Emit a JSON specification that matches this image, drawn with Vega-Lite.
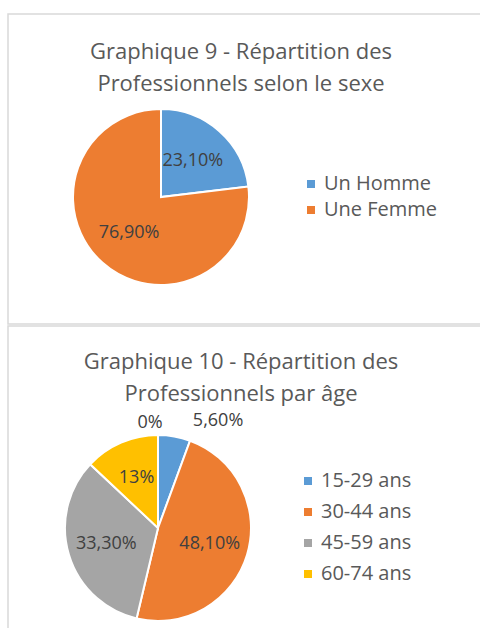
{
  "$schema": "https://vega.github.io/schema/vega-lite/v6.json",
  "background": "white",
  "padding": {"left": 7, "top": 13, "right": 0, "bottom": 0},
  "spacing": 0,
  "resolve": {"scale": {"color": "independent", "theta": "independent"}, "legend": {"color": "independent"}},
  "config": {
    "view": {"stroke": "#d9d9d9", "strokeWidth": 1.5},
    "font": "Open Sans"
  },
  "vconcat": [
    {
      "width": 480,
      "height": 310,
      "view": {"stroke": "#d9d9d9", "strokeWidth": 1.5},
      "title": {"text": ["Graphique 9 - Répartition des", "Professionnels selon le sexe"], "fontSize": 22, "fontWeight": "normal", "color": "#595959", "anchor": "middle", "frame": "group", "lineHeight": 32, "offset": -82, "dx": -7},
      "data": {"values": [
        {"sexe": "Un Homme", "pct": 23.1, "label": "23,10%"},
        {"sexe": "Une Femme", "pct": 76.9, "label": "76,90%"}
      ]},
      "layer": [
        {
          "mark": {"type": "arc", "x": 153, "y": 183, "outerRadius": 88, "stroke": "white", "strokeWidth": 2},
          "encoding": {
            "theta": {"field": "pct", "type": "quantitative", "stack": true},
            "order": {"field": "sexe", "type": "nominal"},
            "color": {"field": "sexe", "type": "nominal", "scale": {"domain": ["Un Homme", "Une Femme"], "range": ["#5B9BD5", "#ED7D31"]},
              "legend": {"orient": "none", "legendX": 293, "legendY": 160, "title": null, "symbolType": "square", "symbolSize": 64, "symbolStrokeWidth": 0, "labelFontSize": 20, "labelColor": "#595959", "labelOffset": 3, "rowPadding": 6, "labelFont": "Open Sans"}}
          }
        },
        {
          "mark": {"type": "text", "x": 153, "y": 183, "radius": 48, "fontSize": 18, "color": "#404040"},
          "encoding": {
            "theta": {"field": "pct", "type": "quantitative", "stack": true},
            "order": {"field": "sexe", "type": "nominal"},
            "detail": {"field": "sexe", "type": "nominal"},
            "text": {"field": "label", "type": "nominal"}
          }
        }
      ]
    },
    {
      "width": 480,
      "height": 310,
      "view": {"stroke": "#d9d9d9", "strokeWidth": 1.5},
      "title": {"text": ["Graphique 10 - Répartition des", "Professionnels par âge"], "fontSize": 22, "fontWeight": "normal", "color": "#595959", "anchor": "middle", "frame": "group", "lineHeight": 32, "offset": -80, "dx": -7},
      "data": {"values": [
        {"age": "15-29 ans", "pct": 5.6, "label": "5,60%"},
        {"age": "30-44 ans", "pct": 48.1, "label": "48,10%"},
        {"age": "45-59 ans", "pct": 33.3, "label": "33,30%"},
        {"age": "60-74 ans", "pct": 13, "label": "13%"},
        {"age": "75 ans et plus", "pct": 0, "label": "0%"}
      ]},
      "layer": [
        {
          "transform": [{"filter": "datum.pct > 0"}],
          "mark": {"type": "arc", "x": 150, "y": 202, "outerRadius": 93, "stroke": "white", "strokeWidth": 2},
          "encoding": {
            "theta": {"field": "pct", "type": "quantitative", "stack": true, "scale": {"domain": [0, 100]}},
            "order": {"field": "age", "type": "nominal"},
            "color": {"field": "age", "type": "nominal", "scale": {"domain": ["15-29 ans", "30-44 ans", "45-59 ans", "60-74 ans"], "range": ["#5B9BD5", "#ED7D31", "#A5A5A5", "#FFC000"]},
              "legend": {"orient": "none", "legendX": 290, "legendY": 145, "title": null, "symbolType": "square", "symbolSize": 64, "symbolStrokeWidth": 0, "labelFontSize": 20, "labelColor": "#595959", "labelOffset": 3, "rowPadding": 11, "labelFont": "Open Sans"}}
          }
        },
        {
          "mark": {"type": "text", "x": 150, "y": 202, "radius": 54, "fontSize": 18, "color": "#404040"},
          "encoding": {
            "theta": {"field": "pct", "type": "quantitative", "stack": true, "scale": {"domain": [0, 100]}},
            "order": {"field": "age", "type": "nominal"},
            "detail": {"field": "age", "type": "nominal"},
            "text": {"condition": {"test": "datum.pct >= 10", "field": "label"}, "value": ""}
          }
        },
        {
          "mark": {"type": "text", "x": 150, "y": 202, "radius": 109, "dx": 41, "fontSize": 18, "color": "#404040"},
          "encoding": {
            "theta": {"field": "pct", "type": "quantitative", "stack": true, "scale": {"domain": [0, 100]}},
            "order": {"field": "age", "type": "nominal"},
            "detail": {"field": "age", "type": "nominal"},
            "text": {"condition": {"test": "datum.pct > 0 && datum.pct < 10", "field": "label"}, "value": ""}
          }
        },
        {
          "mark": {"type": "text", "x": 150, "y": 202, "radius": 105, "dx": -8, "fontSize": 18, "color": "#404040"},
          "encoding": {
            "theta": {"field": "pct", "type": "quantitative", "stack": true, "scale": {"domain": [0, 100]}},
            "order": {"field": "age", "type": "nominal"},
            "detail": {"field": "age", "type": "nominal"},
            "text": {"condition": {"test": "datum.pct == 0", "field": "label"}, "value": ""}
          }
        }
      ]
    }
  ]
}
